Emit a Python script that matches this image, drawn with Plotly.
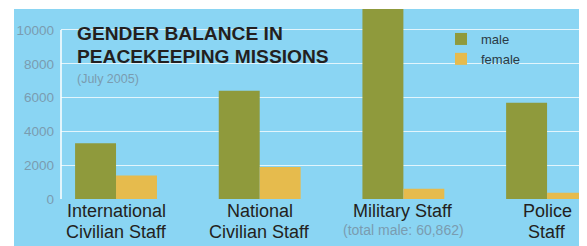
import plotly.graph_objects as go

categories = ["International Civilian Staff", "National Civilian Staff", "Military Staff", "Police Staff"]
male = [3300, 6400, 60862, 5700]
female = [1390, 1900, 600, 370]
label_line1 = ["International", "National", "Military Staff", "Police"]
label_line2 = ["Civilian Staff", "Civilian Staff", "(total male: 60,862)", "Staff"]
y_ticks = [0, 2000, 4000, 6000, 8000, 10000]

BLUE = "#8ad5f3"
GREEN = "#8f9a3c"
YELLOW = "#e6bb4d"
TICKGRAY = "#7a9cb0"
DARK = "#231f20"
FONT = "Liberation Sans, Arial, sans-serif"

OFF = 8  # default page body margin
W, H = 587 - OFF, 246 - OFF
L, R, T, B = 61 - OFF, 0, 9 - OFF, 246 - 199
pw, ph = W - L - R, H - T - B


def px_x(px):
    """page pixel x -> paper coordinate"""
    return (px - OFF - L) / pw


def px_y(py):
    """page pixel y -> paper coordinate"""
    return (H - B - (py - OFF)) / ph


fig = go.Figure()
fig.add_trace(go.Bar(x=categories, y=male, name="male", marker=dict(color=GREEN, line=dict(width=0))))
fig.add_trace(go.Bar(x=categories, y=female, name="female", marker=dict(color=YELLOW, line=dict(width=0))))

annotations = []
annotations.append(dict(text="<b>GENDER BALANCE IN</b>", x=px_x(75), y=px_y(33.5),
                        xref="paper", yref="paper", xanchor="left", yanchor="middle", showarrow=False,
                        font=dict(family=FONT, size=19.2, color=DARK)))
annotations.append(dict(text="<b>PEACEKEEPING MISSIONS</b>", x=px_x(75), y=px_y(56.5),
                        xref="paper", yref="paper", xanchor="left", yanchor="middle", showarrow=False,
                        font=dict(family=FONT, size=19.2, color=DARK)))
annotations.append(dict(text="(July 2005)", x=px_x(75), y=px_y(78.5),
                        xref="paper", yref="paper", xanchor="left", yanchor="middle", showarrow=False,
                        font=dict(family=FONT, size=12.5, color=TICKGRAY)))
for i, (a, b) in enumerate(zip(label_line1, label_line2)):
    annotations.append(dict(text=a, x=categories[i], y=px_y(211), xref="x", yref="paper",
                            xanchor="center", yanchor="middle", showarrow=False,
                            font=dict(family=FONT, size=18, color=DARK)))
    small = (i == 2)
    annotations.append(dict(text=b, x=categories[i], y=px_y(229.5 if small else 232), xref="x", yref="paper",
                            xanchor="center", yanchor="middle", showarrow=False,
                            font=dict(family=FONT, size=14 if small else 18,
                                      color=TICKGRAY if small else DARK)))

shapes = [
    dict(type="rect", xref="paper", yref="paper", x0=px_x(14), x1=1.0,
         y0=px_y(260), y1=px_y(9), fillcolor=BLUE, line=dict(width=0), layer="below"),
    dict(type="line", xref="paper", yref="y", x0=0, x1=0, y0=0, y1=10000,
         line=dict(color="white", width=1.5), layer="above"),
]

fig.update_layout(
    width=W, height=H,
    margin=dict(l=L, r=R, t=T, b=B, pad=0),
    paper_bgcolor="white", plot_bgcolor=BLUE,
    barmode="group", bargap=0.43, bargroupgap=0,
    showlegend=True,
    legend=dict(x=px_x(441), y=px_y(24), xanchor="left", yanchor="top",
                bgcolor="rgba(0,0,0,0)", font=dict(family=FONT, size=13, color="#2a3a44"),
                itemwidth=30, tracegroupgap=0, traceorder="normal"),
    xaxis=dict(range=[-0.383, 3.278], showticklabels=False, showgrid=False, zeroline=False,
               showline=False, ticks=""),
    yaxis=dict(range=[0, 11240], tickvals=y_ticks, ticktext=[str(v) for v in y_ticks],
               showgrid=True, gridcolor="rgba(255,255,255,0.75)", gridwidth=1.2,
               zeroline=False, showline=False, ticks="", ticklabelstandoff=6,
               tickfont=dict(family=FONT, size=13.5, color=TICKGRAY)),
    annotations=annotations,
    shapes=shapes,
)

fig.write_html("out.html")
